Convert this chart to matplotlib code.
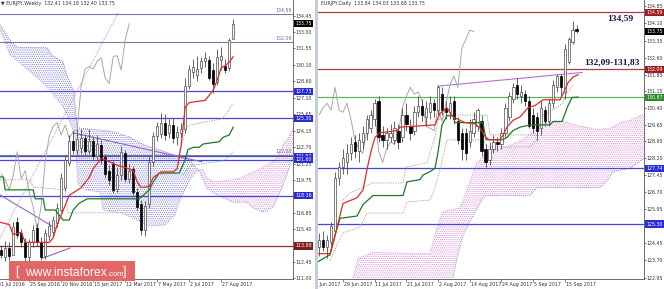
import matplotlib
matplotlib.use('Agg')
import matplotlib.pyplot as plt
import numpy as np
from matplotlib import font_manager as fm
from matplotlib.patches import Rectangle
from matplotlib.transforms import (Bbox, TransformedBbox, ScaledTranslation,
                                   blended_transform_factory)

# ---------------- weekly EURJPY (left panel) ----------------
W_X = list(range(-1, 58))
W_OPEN = [113.5, 112.9, 113.7, 113.1, 116.0, 115.0, 114.2, 112.9, 114.2, 115.5,
          114.2, 113.0, 114.8, 115.1, 115.9, 117.1, 119.1, 121.3, 123.3, 122.5,
          122.6, 123.5, 122.4, 123.3, 121.9, 122.9, 121.8, 120.6, 121.2, 119.0,
          120.2, 122.2, 119.9, 120.8, 118.7, 117.6, 115.3, 117.6, 121.4, 123.7,
          123.9, 124.9, 124.0, 124.7, 123.6, 124.0, 124.3, 128.2, 129.4, 129.2,
          129.8, 130.4, 130.5, 129.6, 128.5, 130.5, 130.0, 129.8, 132.41]
W_HIGH = [114.0, 114.3, 114.2, 116.0, 116.5, 115.4, 114.6, 114.5, 115.8, 115.9,
          114.7, 115.4, 116.1, 116.6, 117.7, 120.4, 122.0, 123.8, 124.2, 124.3,
          124.3, 123.9, 124.3, 123.7, 123.8, 123.4, 122.1, 121.1, 121.5, 120.9,
          122.8, 122.5, 121.2, 121.0, 119.1, 118.0, 117.9, 121.8, 124.1, 125.0,
          125.8, 125.7, 125.2, 125.3, 124.6, 124.9, 128.9, 130.1, 130.6, 130.9,
          130.8, 131.2, 130.9, 130.2, 131.5, 131.7, 130.6, 132.5, 134.18]
W_LOW = [112.8, 112.5, 112.6, 113.5, 114.6, 113.8, 112.5, 112.3, 113.8, 113.9,
         112.6, 112.7, 114.4, 114.8, 115.6, 116.9, 118.8, 121.0, 122.1, 122.1,
         122.2, 122.0, 122.1, 121.6, 121.6, 121.2, 120.0, 119.3, 118.6, 118.7,
         119.8, 119.6, 119.5, 118.4, 117.1, 114.9, 114.8, 117.3, 121.0, 123.3,
         123.5, 123.4, 123.5, 123.1, 122.9, 123.6, 124.0, 127.9, 128.9, 128.6,
         129.3, 129.9, 128.7, 127.6, 128.3, 129.6, 129.3, 129.5, 132.40]
W_CLOSE = [113.1, 113.7, 113.0, 115.6, 114.9, 114.2, 112.9, 114.2, 115.3, 114.2,
           112.9, 115.0, 115.7, 116.2, 117.3, 120.0, 121.6, 123.3, 122.5, 123.4,
           123.5, 122.4, 123.3, 121.9, 123.0, 121.6, 120.3, 119.8, 118.9, 120.2,
           122.3, 119.9, 120.6, 118.7, 117.4, 115.3, 117.5, 121.4, 123.7, 124.6,
           124.9, 123.8, 124.7, 123.5, 124.1, 124.3, 128.2, 129.7, 129.9, 129.7,
           130.4, 130.7, 128.9, 128.4, 130.8, 130.9, 129.6, 132.3, 133.75]

W_TENKAN_X = [-1.3, 1, 2, 4, 5, 11, 12, 13, 15, 16, 19, 21, 22, 24, 25, 28, 30, 32,
              33, 34, 36, 37, 39, 42, 43, 44, 45, 46, 50, 52, 53, 54, 55, 56, 57]
W_TENKAN_Y = [116.0, 115.8, 114.9, 115.1, 114.2, 114.2, 114.6, 115.8, 117.5, 118.4,
              119.1, 120.0, 120.8, 121.7, 121.6, 121.1, 120.9, 120.6, 119.6, 119.1,
              119.2, 120.0, 120.5, 120.5, 120.8, 122.9, 126.3, 126.7, 126.9, 127.8,
              128.7, 129.8, 130.0, 130.3, 130.8]
W_KIJUN_X = [-1.3, -0.5, 0, 7, 7.5, 9.5, 10, 12.5, 14.5, 16, 17, 18.5, 20.5, 33.5,
             34.5, 36, 37, 38.5, 43.5, 45, 45.7, 47, 48.5, 49.5, 53.5, 54.5, 56, 57]
W_KIJUN_Y = [120.05, 120.05, 118.9, 118.9, 118.1, 118.1, 117.1, 117.1, 116.2, 116.2,
             117.1, 117.7, 118.1, 118.1, 118.4, 118.9, 119.6, 120.4, 120.4, 121.6,
             122.5, 122.7, 122.7, 123.0, 123.2, 123.6, 123.8, 124.5]
W_SPAN_A_X = [-1.3, 1.2, 3.7, 8.7, 11.2, 13.7, 14.95, 16.2, 17.45, 18.2, 19.95, 23.7,
              24.45, 28.7, 31.2, 33.7, 36.2, 39.95, 42.45, 43.7, 44.95, 46.2, 48.2,
              49.45, 50.45, 51.95, 56.95, 58.7, 61.95, 65.45, 67.95, 69.45, 71.2, 71.95]
W_SPAN_A_Y = [133.2, 130.95, 130.25, 128.7, 127.8, 126.65, 126.05, 124.9, 123.8, 119.35,
              118.9, 118.7, 117.1, 116.85, 116.5, 116.05, 115.65, 115.75, 116.65, 118.0,
              118.9, 119.8, 120.7, 120.7, 119.95, 119.6, 119.8, 119.95, 120.5, 121.1,
              121.75, 122.9, 123.8, 124.4]
W_SPAN_B_X = [-1.3, 1.2, 2.95, 10.45, 11.7, 14.45, 15.45, 17.2, 17.95, 23.7, 27.45,
              31.2, 34.95, 38.7, 42.45, 46.2, 48.7, 50.45, 52.95, 56.95, 60.45, 61.95,
              64.45, 66.95, 68.7, 70.45, 71.2, 71.95]
W_SPAN_B_Y = [133.65, 132.3, 131.65, 131.6, 130.95, 130.35, 129.15, 127.65, 124.45,
              124.25, 124.05, 123.6, 122.9, 122.45, 122.0, 121.55, 120.5, 119.05,
              118.45, 117.8, 117.8, 117.3, 116.9, 117.35, 118.7, 120.25, 121.1, 121.75]
W_DOT_GREY1_X = [43.2, 44.45, 45.45, 46.2, 54.2, 55.45, 56.95]
W_DOT_GREY1_Y = [121.75, 123.35, 124.5, 124.7, 125.25, 125.75, 126.65]
W_DOT_GREY2_X = [-1.3, 6.2, 6.95, 14.95, 15.7, 28.2]
W_DOT_GREY2_Y = [119.8, 119.8, 119.15, 118.9, 116.85, 116.85]
W_DOT_GREEN_X = [44.45, 46.2, 54.95, 56.95]
W_DOT_GREEN_Y = [120.25, 121.05, 121.55, 122.3]
W_TRENDS = [([16.95, 49.2], [124.0, 121.4]),
            ([-1.3, 12.45], [118.45, 115.5]),
            ([9.45, 16.2], [112.8, 113.7])]
W_DIAG_X = [-1.3, 28.2]
W_DIAG_Y = [114.6, 134.7]
W_LEVELS_BLUE = [127.73, 125.30, 121.92, 121.60, 118.36]
W_LEVELS_GREY = [134.59, 132.09, 122.00]
W_LEVEL_RED = 113.88
W_YTICKS = [134.45, 133.00, 131.55, 130.10, 128.60, 127.10, 125.65, 124.15, 122.70,
            121.25, 119.75, 118.30, 116.85, 115.40, 113.90, 112.45, 111.00]
W_DATE_POS = [-2, 6, 14, 22, 30, 38, 46, 54]
W_DATE_LAB = ['31 Jul 2016', '25 Sep 2016', '20 Nov 2016', '15 Jan 2017',
              '12 Mar 2017', '7 May 2017', '2 Jul 2017', '27 Aug 2017']

# ---------------- daily EURJPY (right panel) ----------------
D_X = list(range(-6, 60))
D_OPEN = [124.3, 124.6, 124.3, 124.5, 125.0, 127.3, 127.8, 128.0, 128.4, 128.9,
          128.5, 128.9, 129.3, 129.5, 129.9, 130.7, 129.2, 129.0, 129.1, 129.0,
          129.4, 129.1, 130.1, 129.6, 129.4, 130.2, 130.5, 130.0, 130.2, 130.6,
          130.3, 131.0, 130.4, 130.2, 130.7, 129.8, 129.3, 129.3, 128.9, 129.3,
          129.6, 129.8, 128.6, 128.1, 128.6, 128.9, 128.8, 129.3, 130.0, 130.8,
          131.4, 130.9, 131.0, 130.7, 130.1, 130.0, 129.5, 130.3, 129.8, 130.6,
          131.3, 131.8, 131.1, 132.4, 133.3, 133.84]
D_HIGH = [124.9, 125.0, 124.8, 125.4, 127.6, 128.0, 128.6, 128.8, 129.1, 129.2,
          129.3, 129.6, 130.1, 130.3, 130.8, 130.9, 129.6, 129.5, 129.7, 129.8,
          129.7, 130.4, 130.6, 129.9, 130.5, 130.9, 130.8, 130.7, 130.9, 130.8,
          131.4, 131.3, 130.7, 130.9, 130.9, 130.0, 129.5, 129.5, 129.9, 130.2,
          130.4, 130.1, 128.8, 128.9, 129.2, 129.1, 129.5, 130.6, 131.1, 131.5,
          131.7, 131.4, 131.2, 130.9, 130.4, 130.2, 130.7, 130.5, 130.8, 131.6,
          131.9, 131.9, 133.2, 133.5, 134.2, 134.03]
D_LOW = [123.9, 124.1, 123.8, 124.2, 124.8, 127.0, 127.5, 127.5, 128.1, 128.2,
         128.0, 128.6, 129.0, 129.3, 129.6, 128.9, 128.7, 128.6, 128.9, 128.8,
         128.6, 128.9, 129.4, 129.0, 129.2, 130.0, 129.8, 129.6, 129.9, 130.0,
         130.1, 130.1, 129.9, 129.9, 129.7, 128.8, 128.1, 128.1, 128.7, 129.1,
         129.4, 128.3, 127.8, 127.9, 128.4, 128.5, 128.6, 129.1, 129.8, 130.6,
         130.8, 130.6, 130.5, 129.5, 129.3, 129.0, 129.2, 129.6, 129.6, 130.4,
         131.1, 130.9, 130.8, 132.3, 133.2, 133.68]
D_CLOSE = [124.6, 124.3, 124.6, 125.2, 127.3, 127.8, 128.2, 128.4, 128.8, 128.5,
           129.0, 129.3, 129.9, 130.1, 130.6, 129.1, 129.0, 129.3, 129.3, 129.5,
           128.9, 130.1, 129.7, 129.3, 130.2, 130.5, 130.1, 130.4, 130.6, 130.3,
           131.3, 130.3, 130.2, 130.6, 129.9, 129.0, 128.6, 128.4, 129.4, 129.9,
           130.3, 128.5, 128.0, 128.6, 128.9, 128.8, 129.3, 130.4, 130.9, 131.3,
           131.0, 131.1, 130.7, 129.6, 129.5, 129.4, 130.4, 129.8, 130.6, 131.4,
           131.8, 131.3, 133.0, 133.4, 133.8, 133.75]

D_TENKAN_X = [-6.31, -3.28, -2.27, -1.52, 0, 3.54, 5.05, 6.31, 7.32, 8.08, 9.34,
              13.64, 14.39, 23.23, 24.49, 26.26, 27.78, 30.81, 33.33, 34.6, 35.86,
              36.87, 39.65, 40.4, 41.41, 42.93, 44.7, 46.72, 48.48, 50.51, 54.8,
              56.06, 56.82, 58.08, 59.34]
D_TENKAN_Y = [124.0, 124.0, 124.6, 125.15, 126.2, 126.45, 126.8, 127.9, 128.65, 129.1,
              129.3, 129.4, 129.55, 129.65, 130.15, 130.4, 130.0, 129.75, 129.7, 129.5,
              129.15, 129.0, 129.0, 129.2, 129.55, 129.85, 130.0, 130.4, 130.5, 130.75,
              130.75, 131.2, 131.5, 131.75, 131.85]
D_KIJUN_X = [-6.31, -3.28, -2.02, -0.76, 3.54, 5.05, 7.58, 15.15, 16.16, 19.44, 20.2,
             21.97, 23.23, 23.99, 25.0, 26.26, 27.78, 28.28, 35.35, 36.11, 40.4, 41.41,
             42.93, 44.7, 47.22, 52.27, 53.03, 55.3, 56.06, 56.82, 57.83, 59.34]
D_KIJUN_Y = [123.65, 123.95, 124.8, 125.55, 125.65, 126.15, 126.55, 126.55, 127.15,
             127.25, 127.45, 127.6, 127.75, 128.45, 129.65, 130.05, 130.05, 129.75,
             129.75, 129.0, 129.0, 129.1, 129.4, 129.55, 129.65, 129.65, 129.8, 129.8,
             130.15, 130.5, 130.85, 130.87]
D_SPAN_A_X = [1.77, 3.79, 7.58, 21.97, 23.74, 25.25, 29.55, 32.07, 33.84, 36.36, 41.41,
              45.45, 48.99, 50.51, 55.56, 59.85, 64.14, 67.42, 69.95, 72.47, 76.26]
D_SPAN_A_Y = [122.4, 123.8, 124.05, 124.0, 125.15, 125.85, 126.0, 127.15, 128.0, 128.45,
              128.7, 129.0, 129.5, 129.75, 129.8, 129.6, 129.45, 129.5, 129.75, 129.85,
              130.15]
D_SPAN_B_X = [1.77, 26.26, 27.78, 28.79, 30.3, 32.07, 35.35, 36.36, 47.22, 48.99, 64.9,
              66.92, 68.18, 72.47, 76.26]
D_SPAN_B_Y = [121.95, 121.95, 122.95, 123.8, 124.8, 125.4, 126.45, 126.55, 126.55,
              126.9, 126.9, 127.25, 127.6, 127.75, 128.2]
D_DOT_GREY1_X = [0, 1.77, 7.58, 15.15, 15.91, 21.21, 21.97, 23.23, 23.99, 26.26, 36.36,
                 37.12, 48.99, 50.51, 52.27, 55.56, 56.57, 58.08]
D_DOT_GREY1_Y = [126.35, 126.66, 127.1, 127.1, 127.8, 127.98, 128.42, 129.12, 129.86,
                 130.08, 130.08, 129.21, 129.21, 130.08, 130.22, 130.61, 131.05, 131.4]
D_DOT_GREY2_X = [-3.28, 0, 4.29, 6.06, 15.15, 16.16, 21.97, 23.23, 24.49, 26.26, 35.35,
                 36.36, 47.22, 48.99]
D_DOT_GREY2_Y = [123.72, 124.91, 125.17, 125.78, 125.78, 126.27, 126.35, 126.92, 127.67,
                 128.99, 128.99, 128.68, 128.68, 128.99]
D_TREND_X = [23.99, 60.35]
D_TREND_Y = [131.35, 131.95]
D_LEVELS_RED = [134.59, 132.09]
D_LEVEL_GREEN = 130.87
D_LEVELS_BLUE = [127.74, 125.30]
D_YTICKS = [134.85, 134.10, 133.35, 132.60, 131.85, 131.15, 130.40, 129.65, 128.95,
            128.20, 127.45, 126.70, 125.95, 125.20, 124.45, 123.70, 122.95]
D_DATE_POS = [-8, 0, 8, 16, 24, 32, 40, 48, 56]
D_DATE_LAB = ['19 Jun 2017', '29 Jun 2017', '11 Jul 2017', '21 Jul 2017', '2 Aug 2017',
              '14 Aug 2017', '24 Aug 2017', '5 Sep 2017', '15 Sep 2017']


def pick_small_font():
    # the terminal's labels are very narrow; use a narrow face if one exists
    for fam, stretch, size in (('Liberation Sans Narrow', 'normal', 4.3),
                               ('DejaVu Sans', 'condensed', 3.8)):
        try:
            path = fm.findfont(fm.FontProperties(family=fam, stretch=stretch),
                               fallback_to_default=False)
        except ValueError:
            continue
        if 'Narrow' in path or 'Condensed' in path:
            return fam, stretch, size
    return 'DejaVu Sans', 'normal', 3.3


SMALL_FAM, SMALL_STRETCH, FS = pick_small_font()
plt.rcParams['font.family'] = [SMALL_FAM, 'DejaVu Sans']
plt.rcParams['font.stretch'] = SMALL_STRETCH
plt.rcParams['hatch.linewidth'] = 0.45

BLUE = '#4646dc'
DARK_RED = '#962b2b'
TXT = '#333333'

W_PX, H_PX = 664, 289
fig = plt.figure(figsize=(W_PX / 100, H_PX / 100), dpi=100)
axL = fig.add_axes([0, 10 / H_PX, 293 / W_PX, 279 / H_PX])
axR = fig.add_axes([318 / W_PX, 10 / H_PX, 326 / W_PX, 279 / H_PX])


def style_axes(ax, yticks):
    for s in ('top', 'left'):
        ax.spines[s].set_visible(False)
    for s in ('right', 'bottom'):
        ax.spines[s].set_color('#555555')
        ax.spines[s].set_linewidth(0.6)
    ax.yaxis.tick_right()
    ax.set_yticks(yticks)
    ax.set_yticklabels([f'{v:.2f}' for v in yticks])
    ax.tick_params(axis='y', length=1.5, width=0.5, pad=0.6, labelsize=FS,
                   colors=TXT)
    ax.tick_params(axis='x', length=2, width=0.5, labelbottom=False,
                   colors='#555555')


def draw_candles(ax, x, o, h, l, c):
    x, o, h, l, c = map(np.asarray, (x, o, h, l, c))
    ax.vlines(x, l, h, color='#4a4a4a', lw=0.6, zorder=4)
    up = c >= o
    ax.bar(x[up], c[up] - o[up], bottom=o[up], width=0.62, color='white',
           edgecolor='#4a4a4a', linewidth=0.5, zorder=5)
    ax.bar(x[~up], o[~up] - c[~up], bottom=c[~up], width=0.62, color='black',
           edgecolor='black', linewidth=0.5, zorder=5)


def draw_cloud(ax, ax_, ay, bx, by, up_color, down_color):
    xs = np.union1d(ax_, bx)
    a = np.interp(xs, ax_, ay)
    b = np.interp(xs, bx, by)
    ax.fill_between(xs, a, b, where=a >= b, interpolate=True, facecolor='none',
                    edgecolor=up_color, hatch='.' * 8, linewidth=0, zorder=1)
    ax.fill_between(xs, a, b, where=a < b, interpolate=True, facecolor='none',
                    edgecolor=down_color, hatch='.' * 8, linewidth=0, zorder=1)
    ax.plot(ax_, ay, color=up_color, lw=0.6, ls=(0, (1, 1.5)), zorder=1.5)
    ax.plot(bx, by, color=down_color, lw=0.6, ls=(0, (1, 1.5)), zorder=1.5)


def price_box(ax, value, color):
    tr = blended_transform_factory(ax.transAxes, ax.transData) + \
        ScaledTranslation(1.6 / 72, 0, fig.dpi_scale_trans)
    ax.text(1.0, value, f'{value:.2f}', transform=tr, ha='left', va='center',
            fontsize=FS, color='white', clip_on=False, zorder=20,
            bbox=dict(boxstyle='square,pad=0.2', fc=color, ec='none'))


def date_labels(ax, positions, labels, x0_px, x1_px):
    tr = blended_transform_factory(ax.transData, ax.transAxes)
    clip = TransformedBbox(Bbox.from_extents(x0_px / W_PX, 0, x1_px / W_PX, 1),
                           fig.transFigure)
    lo, hi = ax.get_xlim()
    ax.set_xticks([p for p in positions if lo <= p <= hi])
    for p, lab in zip(positions, labels):
        t = ax.text(p + 0.2, -0.01, lab, transform=tr, ha='left', va='top',
                    fontsize=FS, color=TXT)
        t.set_clip_path(None)
        t.set_clip_box(clip)
        t.set_clip_on(True)


# ---- left: weekly ----
axL.set_xlim(-1.3, 71.95)
axL.set_ylim(110.93, 135.87)
style_axes(axL, W_YTICKS)
draw_cloud(axL, W_SPAN_A_X, W_SPAN_A_Y, W_SPAN_B_X, W_SPAN_B_Y, '#d77ed7', '#6d6dd6')
for v in W_LEVELS_BLUE:
    axL.axhline(v, color=BLUE, lw=0.9, zorder=2)
for v in W_LEVELS_GREY:
    axL.axhline(v, color='#7a7aa6', lw=0.8, zorder=2)
axL.axhline(W_LEVEL_RED, color=DARK_RED, lw=0.9, zorder=2)
axL.plot(W_DIAG_X, W_DIAG_Y, color='#e0708c', lw=0.7, ls=(0, (1, 1.5)), zorder=2)
axL.plot(W_DOT_GREY1_X, W_DOT_GREY1_Y, color='#9a9a9a', lw=0.6, ls=(0, (1.5, 1.5)), zorder=2)
axL.plot(W_DOT_GREY2_X, W_DOT_GREY2_Y, color='#9a9a9a', lw=0.6, ls=(0, (1.5, 1.5)), zorder=2)
axL.plot(W_DOT_GREEN_X, W_DOT_GREEN_Y, color='#6fa86f', lw=0.6, ls=(0, (1.5, 1.5)), zorder=2)
for tx, ty in W_TRENDS:
    axL.plot(tx, ty, color='#9a62c8', lw=0.8, zorder=2)
axL.plot(np.array(W_X[:-26]), W_CLOSE[26:], color='#a8a8a8', lw=0.7, zorder=3)
axL.plot(W_KIJUN_X, W_KIJUN_Y, color='#1e7a1e', lw=0.9, zorder=6)
axL.plot(W_TENKAN_X, W_TENKAN_Y, color='#e02a2a', lw=0.9, zorder=6)
draw_candles(axL, W_X, W_OPEN, W_HIGH, W_LOW, W_CLOSE)
for v in W_LEVELS_GREY:
    axL.text(0.995, v + 0.12, f'{v:.2f}', transform=blended_transform_factory(
        axL.transAxes, axL.transData), ha='right', va='bottom', fontsize=FS,
        color='#6a6a9a', zorder=7)
price_box(axL, W_CLOSE[-1], 'black')
for v in W_LEVELS_BLUE:
    price_box(axL, v, '#2b2bd6')
price_box(axL, W_LEVEL_RED, '#7d1e1e')
date_labels(axL, W_DATE_POS, W_DATE_LAB, 0, 314)
axL.text(0.005, 0.997, '\u25bc EURJPY,Weekly  132.41 134.18 132.40 133.75',
         transform=axL.transAxes, ha='left', va='top', fontsize=FS, color=TXT)

# ---- right: daily ----
axR.set_xlim(-6.31, 76.0)
axR.set_ylim(122.887, 135.13)
style_axes(axR, D_YTICKS)
draw_cloud(axR, D_SPAN_A_X, D_SPAN_A_Y, D_SPAN_B_X, D_SPAN_B_Y, '#d77ed7', '#6d6dd6')
for v in D_LEVELS_RED:
    axR.axhline(v, color='#a04040', lw=0.9, zorder=2)
axR.axhline(D_LEVEL_GREEN, color='#5cb85c', lw=0.9, zorder=2)
for v in D_LEVELS_BLUE:
    axR.axhline(v, color=BLUE, lw=0.9, zorder=2)
axR.plot(D_DOT_GREY1_X, D_DOT_GREY1_Y, color='#9a9a9a', lw=0.6, ls=(0, (1.5, 1.5)), zorder=2)
axR.plot(D_DOT_GREY2_X, D_DOT_GREY2_Y, color='#9a9a9a', lw=0.6, ls=(0, (1.5, 1.5)), zorder=2)
axR.plot(D_TREND_X, D_TREND_Y, color='#b070d8', lw=0.8, zorder=2)
axR.plot(np.array(D_X[:-26]), D_CLOSE[26:], color='#a8a8a8', lw=0.7, zorder=3)
axR.plot(D_KIJUN_X, D_KIJUN_Y, color='#1e7a1e', lw=0.9, zorder=6)
axR.plot(D_TENKAN_X, D_TENKAN_Y, color='#e02a2a', lw=0.9, zorder=6)
draw_candles(axR, D_X, D_OPEN, D_HIGH, D_LOW, D_CLOSE)
for v in D_LEVELS_RED:
    price_box(axR, v, '#9b1f1f')
price_box(axR, D_CLOSE[-1], 'black')
price_box(axR, D_LEVEL_GREEN, '#2f8a2f')
for v in D_LEVELS_BLUE:
    price_box(axR, v, '#2b2bd6')
date_labels(axR, D_DATE_POS, D_DATE_LAB, 318, W_PX)
axR.text(0.008, 0.997, 'EURJPY,Daily  133.84 134.03 133.68 133.75',
         transform=axR.transAxes, ha='left', va='top', fontsize=FS, color=TXT)
axR.text(66.6, 134.34, '134,59', ha='left', va='center', fontsize=6.8,
         fontweight='bold', family='Liberation Serif', fontstretch='normal',
         color='#16164a', zorder=8)
axR.text(60.9, 132.37, '132,09-131,83', ha='left', va='center', fontsize=6.8,
         fontweight='bold', family='Liberation Serif', fontstretch='normal',
         color='#16164a', zorder=8)

# panel separator
fig.patches.append(Rectangle((314.5 / W_PX, 0), 3 / W_PX, 1, transform=fig.transFigure,
                             facecolor='#c5cedb', edgecolor='none', zorder=5))

# watermark
fig.patches.append(Rectangle((9 / W_PX, 8 / H_PX), 126 / W_PX, 20 / H_PX,
                             transform=fig.transFigure, facecolor='#e26666',
                             edgecolor='none', zorder=10))
wm = dict(color='white', va='baseline', family='Liberation Sans',
          fontstretch='normal', zorder=11)
fig.text(15 / W_PX, 13.5 / H_PX, '[', fontsize=9, **wm)
fig.text(25 / W_PX, 13.5 / H_PX, 'www.instaforex', fontsize=8.7, **wm)
fig.text(107 / W_PX, 13.5 / H_PX, '.com', fontsize=5.5, **wm)
fig.text(123 / W_PX, 13.5 / H_PX, ']', fontsize=9, **wm)

fig.savefig('out.png', dpi=100)
